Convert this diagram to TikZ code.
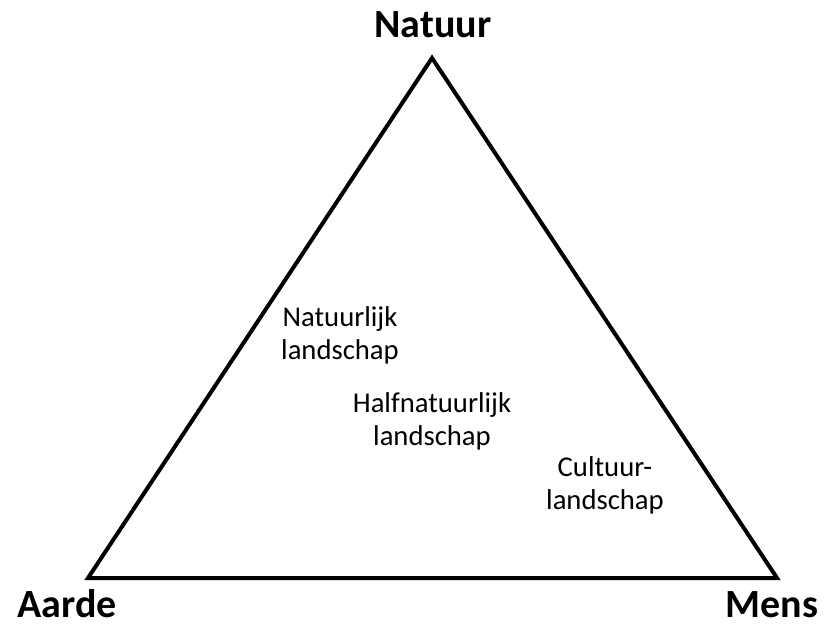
\documentclass[tikz,border=0pt]{standalone}
\usepackage{fontspec}
\setmainfont{Carlito}
\begin{document}
\begin{tikzpicture}[x=0.75pt,y=-0.75pt,
  corner/.style={font=\fontsize{30}{36}\selectfont\bfseries, anchor=base, inner sep=0pt},
  zone/.style={font=\fontsize{21.5}{24.75}\selectfont, align=center, inner sep=0pt},
  edge/.style={line width=3pt, line join=miter}]
\useasboundingbox (0,0) rectangle (824,627);
\coordinate (top) at (432,58);
\coordinate (left) at (88,578);
\coordinate (right) at (777,578);
\draw[edge] (top) -- (left) -- (right) -- cycle;
\node[corner] (natuur) at (433,38) {Natuur};
\node[corner] (aarde) at (67,617) {Aarde};
\node[corner] (mens) at (772,617) {Mens};
\node[zone] (nat) at (340,335) {Natuurlijk\\landschap};
\node[zone] (half) at (432,421) {Halfnatuurlijk\\landschap};
\node[zone] (cult) at (605,485) {Cultuur-\\landschap};
\end{tikzpicture}
\end{document}
